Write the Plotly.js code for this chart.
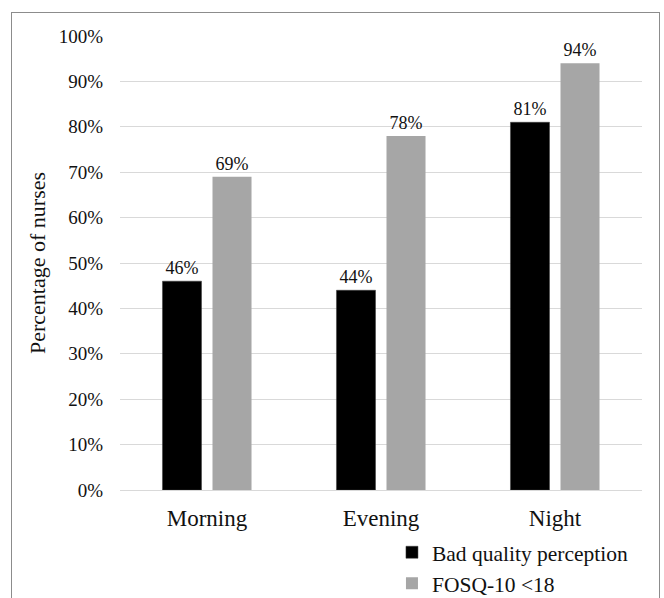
<!DOCTYPE html>
<html>
<head>
<meta charset="utf-8">
<script src="https://cdn.plot.ly/plotly-3.0.1.min.js"></script>
<style>
  html, body { margin: 0; padding: 0; background: #fff; }
  #wrap { position: relative; width: 664px; height: 598px; overflow: hidden; }
  #chart { position: absolute; left: 0; top: 0; width: 664px; height: 598px; }
  #frame { position: absolute; left: 11px; top: 12px; width: 649px; height: 620px;
           border: 1px solid #8c8c8c; pointer-events: none; box-sizing: border-box; }
</style>
</head>
<body>
<div id="wrap">
  <div id="chart"></div>
  <div id="frame"></div>
</div>
<script>
const categories = ['Morning', 'Evening', 'Night'];
const seriesNames = ['Bad quality perception', 'FOSQ-10 <18'];
const badQuality = [46, 44, 81];
const fosq = [69, 78, 94];
const yTicks = [0, 10, 20, 30, 40, 50, 60, 70, 80, 90, 100];

const font = 'Liberation Serif, Times New Roman, serif';
const textColor = '#111111';

const traces = [
  {
    type: 'bar', name: seriesNames[0], x: categories, y: badQuality,
    marker: { color: '#000000', line: { color: '#3a3a3a', width: 0.5 } },
    text: badQuality.map(v => v + '%'), textposition: 'outside',
    textfont: { family: font, size: 18, color: textColor },
    cliponaxis: false, hoverinfo: 'skip'
  },
  {
    type: 'bar', name: seriesNames[1], x: categories, y: fosq,
    marker: { color: '#a6a6a6' },
    text: fosq.map(v => v + '%'), textposition: 'outside',
    textfont: { family: font, size: 18, color: textColor },
    cliponaxis: false, hoverinfo: 'skip'
  }
];

const layout = {
  width: 664, height: 598,
  margin: { l: 120, r: 22, t: 36, b: 108, autoexpand: false },
  paper_bgcolor: '#ffffff', plot_bgcolor: '#ffffff',
  font: { family: font, color: textColor },
  barmode: 'group',
  bargap: 0.425,
  bargroupgap: 0.22,
  showlegend: true,
  legend: {
    x: 0.521, xanchor: 'left', y: -0.092, yanchor: 'top',
    orientation: 'v',
    font: { family: font, size: 21.5, color: textColor },
    bgcolor: 'rgba(0,0,0,0)', tracegroupgap: 0
  },
  xaxis: {
    type: 'category',
    showgrid: false, showline: false, zeroline: false,
    ticks: '',
    tickfont: { family: font, size: 23, color: textColor },
    ticklabelstandoff: 12
  },
  yaxis: {
    range: [0, 100],
    tickvals: yTicks,
    ticktext: yTicks.map(v => v + '%'),
    showgrid: true, gridcolor: '#d9d9d9', gridwidth: 1,
    zeroline: true, zerolinecolor: '#d9d9d9', zerolinewidth: 1,
    showline: false, ticks: '',
    tickfont: { family: font, size: 19, color: textColor },
    ticklabelstandoff: 16,
    title: { text: 'Percentage of nurses', font: { family: font, size: 22, color: textColor }, standoff: 6 }
  }
};

Plotly.newPlot('chart', traces, layout, { staticPlot: true, displayModeBar: false });
</script>
</body>
</html>
